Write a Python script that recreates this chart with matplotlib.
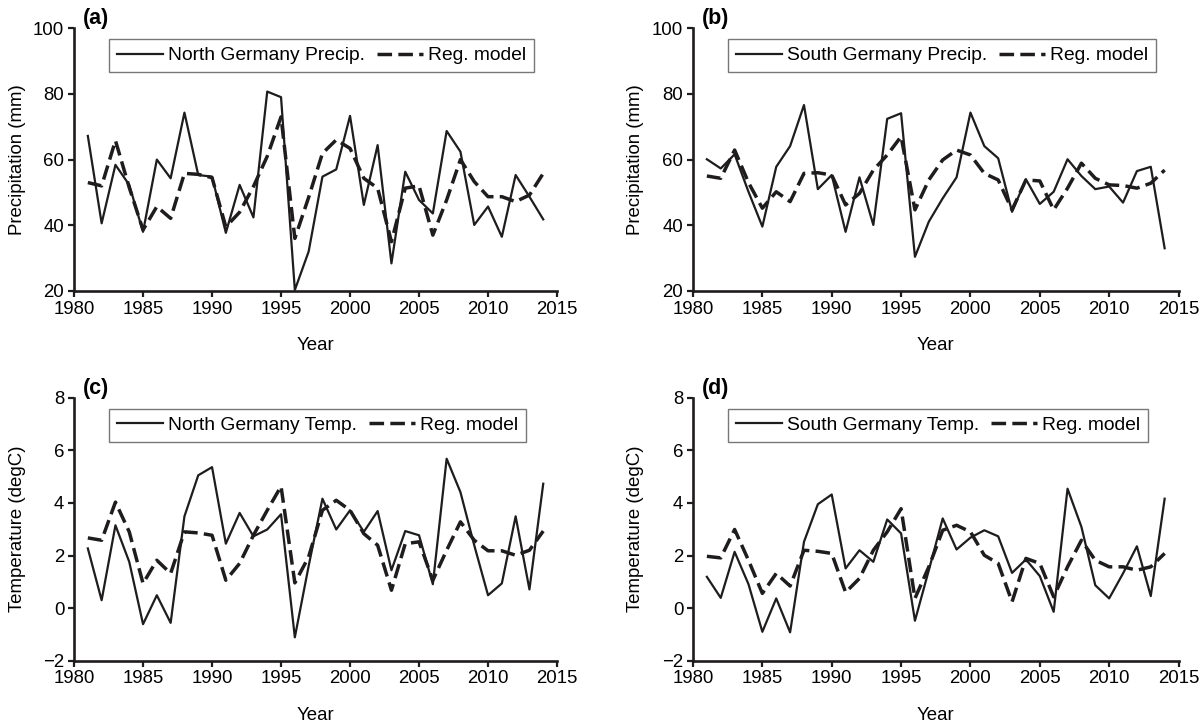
import numpy as np
import matplotlib
matplotlib.use('Agg')
import matplotlib.pyplot as plt

plt.rcParams['font.family'] = ['Liberation Sans', 'DejaVu Sans']

years = list(range(1981, 2015))

# (a) North Germany precipitation (mm)
north_precip = [67.2, 40.6, 58.4, 52.3, 38.0, 60.0, 54.3, 74.3, 55.3, 54.8,
                37.7, 52.3, 42.4, 80.7, 79.0, 20.3, 32.0, 54.8, 57.0, 73.3,
                46.2, 64.4, 28.4, 56.3, 47.7, 43.6, 68.7, 62.4, 40.1, 45.7,
                36.5, 55.3, 48.7, 41.8]
north_precip_model = [53.0, 52.0, 65.8, 51.5, 38.6, 45.7, 42.1, 55.8, 55.5, 54.5,
                      39.5, 44.0, 51.8, 61.0, 73.0, 36.0, 48.5, 61.9, 66.0, 63.4,
                      54.3, 51.3, 35.0, 51.3, 52.0, 37.0, 47.7, 60.0, 53.3, 48.7,
                      48.7, 47.2, 49.2, 55.8]

# (b) South Germany precipitation (mm)
south_precip = [60.1, 57.3, 61.6, 50.2, 39.6, 57.8, 64.1, 76.6, 51.0, 55.3,
                38.0, 54.6, 40.1, 72.4, 74.1, 30.4, 41.1, 48.2, 54.6, 74.3,
                64.1, 60.4, 44.1, 54.0, 46.5, 50.2, 60.1, 55.0, 51.0, 51.8,
                46.9, 56.5, 57.8, 33.0]
south_precip_model = [55.0, 54.3, 62.9, 53.0, 45.2, 50.2, 47.2, 55.8, 56.0, 55.3,
                      46.2, 49.7, 56.8, 61.4, 67.0, 44.7, 53.8, 59.9, 62.9, 61.4,
                      55.8, 53.8, 44.7, 53.8, 53.5, 44.7, 51.3, 58.9, 54.3, 52.3,
                      52.1, 51.3, 52.8, 56.8]

# (c) North Germany temperature (degC)
north_temp = [2.27, 0.30, 3.15, 1.76, -0.61, 0.49, -0.56, 3.49, 5.05, 5.36,
              2.45, 3.62, 2.73, 2.99, 3.57, -1.11, 1.60, 4.16, 2.99, 3.72,
              2.90, 3.69, 1.44, 2.93, 2.77, 0.91, 5.68, 4.41, 2.39, 0.49,
              0.94, 3.49, 0.71, 4.73]
north_temp_model = [2.67, 2.58, 4.03, 2.90, 0.94, 1.82, 1.32, 2.90, 2.86, 2.77,
                    1.06, 1.70, 2.77, 3.72, 4.63, 0.96, 1.95, 3.72, 4.10, 3.72,
                    2.83, 2.39, 0.68, 2.45, 2.52, 1.06, 2.20, 3.28, 2.58, 2.18,
                    2.18, 2.01, 2.20, 2.93]

# (d) South Germany temperature (degC)
south_temp = [1.19, 0.39, 2.14, 0.91, -0.90, 0.37, -0.92, 2.52, 3.95, 4.32,
              1.51, 2.20, 1.76, 3.37, 2.84, -0.48, 1.44, 3.41, 2.23, 2.68,
              2.96, 2.73, 1.34, 1.85, 1.22, -0.14, 4.54, 3.09, 0.87, 0.37,
              1.32, 2.35, 0.46, 4.16]
south_temp_model = [1.97, 1.91, 2.99, 1.82, 0.56, 1.32, 0.84, 2.20, 2.16, 2.08,
                    0.60, 1.13, 2.20, 2.90, 3.78, 0.37, 1.57, 2.96, 3.15, 2.90,
                    2.01, 1.70, 0.24, 1.89, 1.70, 0.43, 1.57, 2.58, 1.82, 1.57,
                    1.57, 1.44, 1.57, 2.08]

panels = [
    ('(a)', north_precip, north_precip_model, 'North Germany Precip.', 'Precipitation (mm)', (20, 100), 20),
    ('(b)', south_precip, south_precip_model, 'South Germany Precip.', 'Precipitation (mm)', (20, 100), 20),
    ('(c)', north_temp, north_temp_model, 'North Germany Temp.', 'Temperature (degC)', (-2, 8), 2),
    ('(d)', south_temp, south_temp_model, 'South Germany Temp.', 'Temperature (degC)', (-2, 8), 2),
]

# axes rectangles in figure fractions (left, bottom, width, height)
rects = [(0.0617, 0.6003, 0.4025, 0.3610),
         (0.5775, 0.6003, 0.4046, 0.3610),
         (0.0617, 0.0924, 0.4025, 0.3613),
         (0.5775, 0.0924, 0.4046, 0.3613)]

fs = 13.4
ink = '#1e1c1d'

fig = plt.figure(figsize=(12, 7.28), dpi=100)

for rect, (tag, obs, mod, name, ylab, ylim, ystep) in zip(rects, panels):
    ax = fig.add_axes(rect)
    ax.plot(years, obs, color=ink, lw=1.6, label=name)
    ax.plot(years, mod, color=ink, lw=2.5, dashes=(4.2, 1.8), label='Reg. model')
    ax.set_xlim(1980, 2015)
    ax.set_ylim(*ylim)
    ax.set_xticks(range(1980, 2016, 5))
    ax.set_yticks(np.arange(ylim[0], ylim[1] + 0.1, ystep))
    for s in ['top', 'right']:
        ax.spines[s].set_visible(False)
    for s in ['left', 'bottom']:
        ax.spines[s].set_linewidth(1.9)
        ax.spines[s].set_color(ink)
    ax.tick_params(direction='out', length=4, width=1.6, color=ink,
                   labelsize=fs, pad=3)
    ax.set_xlabel('Year', fontsize=fs, labelpad=14)
    ax.set_ylabel(ylab, fontsize=fs)
    ax.yaxis.set_label_coords(-0.1, 0.5)
    ax.text(0.018, 1.015, tag, transform=ax.transAxes, fontsize=15.5,
            fontweight='bold', va='baseline', ha='left')
    leg = ax.legend(loc='upper left', bbox_to_anchor=(0.073, 0.958), ncol=2,
                    fontsize=13.9, frameon=True, fancybox=False, borderpad=0.4,
                    handlelength=2.4, handletextpad=0.25, columnspacing=0.6,
                    borderaxespad=0)
    leg.get_frame().set_edgecolor('#555555')
    leg.get_frame().set_linewidth(1.0)

plt.savefig('out.png', dpi=100)
